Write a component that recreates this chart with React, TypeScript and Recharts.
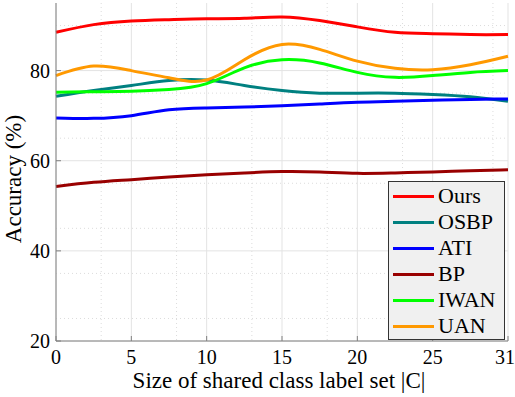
import React from "react";
import {
  CartesianGrid,
  Line,
  LineChart,
  XAxis,
  YAxis,
} from "recharts";

// tick labels sit evenly spaced in the figure; curves are read at every half step
const xLabels = [0, 5, 10, 15, 20, 25, 31];
const xPos = [0, 0.5, 1, 1.5, 2, 2.5, 3, 3.5, 4, 4.5, 5, 5.5, 6];

const ours = [88.5, 90.2, 91.0, 91.3, 91.5, 91.6, 91.9, 91.1, 89.7, 88.5, 88.2, 88.0, 88.0];
const osbp = [74.3, 75.6, 76.7, 77.8, 77.9, 76.7, 75.6, 75.0, 75.0, 75.0, 74.7, 74.2, 73.2];
const ati = [69.5, 69.4, 70.0, 71.3, 71.7, 71.9, 72.2, 72.6, 73.0, 73.2, 73.4, 73.6, 73.7];
const bp = [54.3, 55.2, 55.8, 56.4, 56.9, 57.3, 57.6, 57.5, 57.2, 57.3, 57.5, 57.8, 58.0];
const iwan = [75.2, 75.3, 75.4, 75.8, 77.1, 80.6, 82.4, 81.7, 79.6, 78.5, 78.9, 79.6, 80.0];
const uan = [78.9, 81.0, 80.0, 78.4, 77.9, 82.4, 85.8, 84.7, 82.1, 80.5, 80.2, 81.3, 83.2];

const yTicks = [20, 40, 60, 80];
const yMinor = [25, 30, 35, 45, 50, 55, 65, 70, 75, 85, 90];

const series = [
  { key: "ours", name: "Ours", color: "#ff0000", values: ours },
  { key: "osbp", name: "OSBP", color: "#008080", values: osbp },
  { key: "ati", name: "ATI", color: "#0000ff", values: ati },
  { key: "bp", name: "BP", color: "#990000", values: bp },
  { key: "iwan", name: "IWAN", color: "#00ff00", values: iwan },
  { key: "uan", name: "UAN", color: "#ff9900", values: uan },
];

const data = xPos.map((x, i) => {
  const row: Record<string, number> = { x };
  series.forEach((s) => (row[s.key] = s.values[i]));
  return row;
});

const xIdx = xLabels.map((_, i) => i);
const xMinor: number[] = [];
for (let i = 0; i < 6; i++) for (let k = 1; k < 5; k++) xMinor.push(i + k * 0.2);

const font = "'Liberation Serif', 'DejaVu Serif', 'Times New Roman', Times, serif";
const axisColor = "#808080";

const YLabel = (props: any) => {
  const vb = props.viewBox || {};
  const cx = 13;
  const cy = (vb.y ?? 3) + (vb.height ?? 338) / 2 + 7;
  return (
    <text
      x={cx}
      y={cy}
      transform={`rotate(-90, ${cx}, ${cy})`}
      textAnchor="middle"
      dominantBaseline="central"
      style={{ fontSize: 23, fontFamily: font }}
      fill="#000"
    >
      Accuracy (%)
    </text>
  );
};

const tickStyle = { fontSize: 20, fill: "#000", style: { fontFamily: font } };

export default function App() {
  return (
    <div style={{ position: "absolute", left: 0, top: 0, width: 515, height: 397, background: "#fff", fontFamily: font }}>
      <LineChart
        width={515}
        height={397}
        data={data}
        margin={{ top: 3, right: 7, left: 0, bottom: 0 }}
        style={{ fontFamily: font }}
      >
        <CartesianGrid
          stroke="#dcdcdc"
          strokeDasharray="1 3"
          verticalValues={xMinor}
          horizontalValues={yMinor}
        />
        <CartesianGrid stroke="#e3e3e3" verticalValues={xIdx} horizontalValues={yTicks} />
        <XAxis
          dataKey="x"
          type="number"
          domain={[0, 6]}
          ticks={xIdx}
          tickFormatter={(v) => String(xLabels[v])}
          height={56}
          stroke={axisColor}
          tickSize={-5}
          tickMargin={14}
          tick={tickStyle}
          label={{
            value: "Size of shared class label set |C|",
            position: "insideBottom",
            offset: 9,
            fontSize: 23,
            fill: "#000",
            style: { fontFamily: font },
            dx: -3,
          }}
        />
        <XAxis
          xAxisId="top"
          dataKey="x"
          type="number"
          orientation="top"
          domain={[0, 6]}
          ticks={xIdx}
          tickFormatter={() => ""}
          height={0}
          stroke={axisColor}
          tickSize={-5}
        />
        <YAxis
          domain={[20, 95]}
          ticks={yTicks}
          width={56}
          stroke={axisColor}
          tickSize={-5}
          tickMargin={11}
          tick={tickStyle}
          label={<YLabel />}
        />
        <YAxis
          yAxisId="right"
          orientation="right"
          domain={[20, 95]}
          ticks={yTicks}
          tickFormatter={() => ""}
          width={0}
          stroke={axisColor}
          tickSize={-5}
        />
        {series.map((s) => (
          <Line
            key={s.key}
            type="natural"
            dataKey={s.key}
            name={s.name}
            stroke={s.color}
            strokeWidth={3}
            dot={false}
            activeDot={false}
            isAnimationActive={false}
          />
        ))}
      </LineChart>
      <div
        style={{
          position: "absolute",
          left: 388,
          top: 181,
          width: 117,
          height: 159,
          background: "#f0f0f0",
          border: "1px solid #333",
          boxSizing: "border-box",
          fontFamily: font,
          fontSize: 22,
          paddingTop: 1,
        }}
      >
        {series.map((s) => (
          <div key={s.key} style={{ display: "flex", alignItems: "center", height: 26 }}>
            <span
              style={{
                display: "inline-block",
                width: 41,
                height: 3,
                marginLeft: 4,
                marginRight: 4,
                background: s.color,
              }}
            />
            <span style={{ lineHeight: "26px" }}>{s.name}</span>
          </div>
        ))}
      </div>
    </div>
  );
}
